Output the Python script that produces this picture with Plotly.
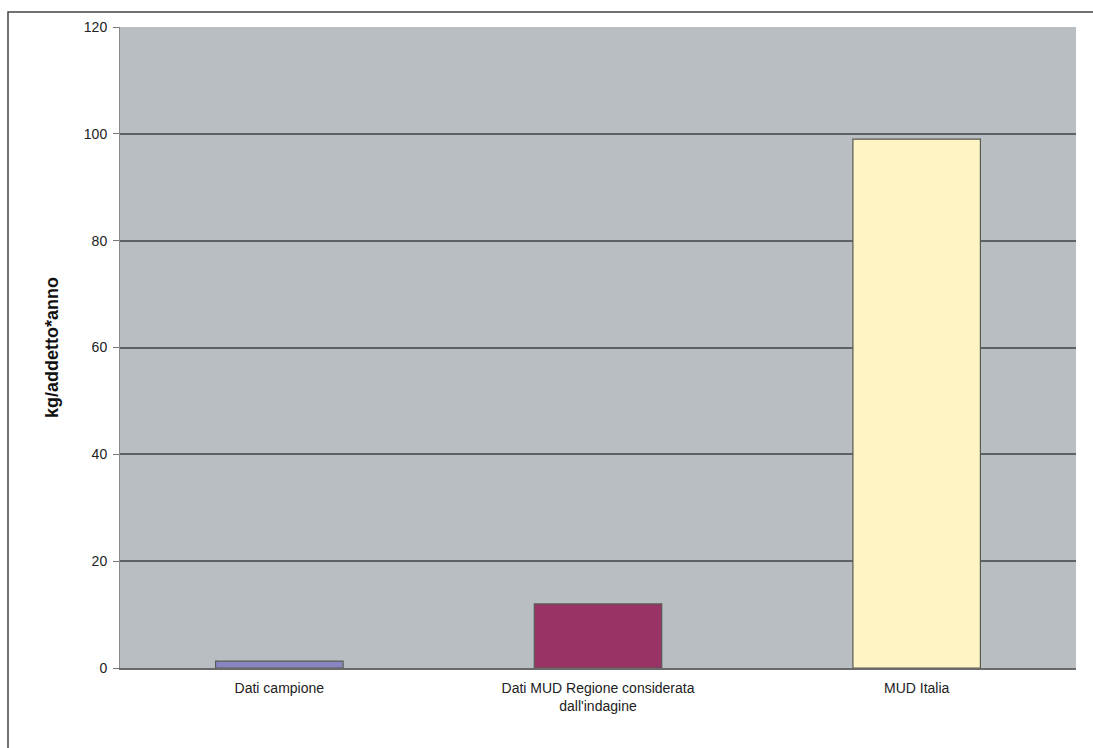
import plotly.graph_objects as go

categories = ["Dati campione", "Dati MUD Regione considerata<br>dall'indagine", "MUD Italia"]
values = [1.3, 12, 99]
bar_colors = ["#8886c2", "#993366", "#fff5c4"]
y_ticks = [0, 20, 40, 60, 80, 100, 120]

fig = go.Figure(
    go.Bar(
        x=categories,
        y=values,
        marker=dict(color=bar_colors, line=dict(color="#5a5a50", width=1.2)),
        width=0.4,
    )
)

# plot area: x 120..1076, y 27..668 px
L, R, T, B = 120, 17, 27, 80
pw, ph = 1093 - L - R, 748 - T - B

def px_x(x):
    return (x - L) / pw

def px_y(y):
    return (748 - B - y) / ph

fig.update_layout(
    width=1093,
    height=748,
    margin=dict(l=L, r=R, t=T, b=B),
    paper_bgcolor="white",
    plot_bgcolor="#b9bec2",
    showlegend=False,
    font=dict(family="Liberation Sans, Arial, sans-serif", size=14, color="#222222"),
    shapes=[
        dict(type="rect", xref="paper", yref="paper",
             x0=px_x(8), x1=px_x(1110), y0=px_y(760), y1=px_y(12),
             line=dict(color="#444444", width=1.5), fillcolor="rgba(0,0,0,0)",
             layer="below"),
    ],
)
fig.update_xaxes(
    showgrid=False,
    showline=True,
    linecolor="#6a6a6a",
    linewidth=2,
    ticks="",
    ticklabelstandoff=6,
    tickfont=dict(size=14, color="#222222"),
)
fig.update_yaxes(
    range=[0, 120],
    tickvals=y_ticks,
    showgrid=True,
    gridcolor="#5e6264",
    gridwidth=1.5,
    zeroline=False,
    showline=True,
    linecolor="#8a8a8a",
    linewidth=1,
    ticks="outside",
    ticklen=6,
    tickcolor="#777777",
    ticklabelstandoff=3,
    tickfont=dict(size=14, color="#222222"),
    title=dict(text="<b>kg/addetto*anno</b>", font=dict(size=18, color="#111111"), standoff=20),
)

fig.write_html("out.html")
